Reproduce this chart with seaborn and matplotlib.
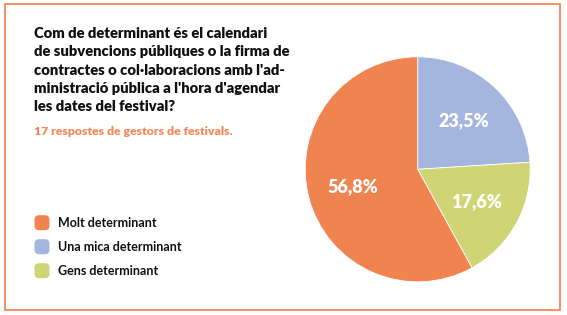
import matplotlib
matplotlib.use("Agg")
import matplotlib.pyplot as plt
from matplotlib.patches import Rectangle, FancyBboxPatch
import seaborn as sns

sns.set_theme(style="white")
plt.rcParams['font.family'] = ['Lato', 'DejaVu Sans']

categories = ["Molt determinant", "Una mica determinant", "Gens determinant"]
values = [56.8, 23.5, 17.6]
value_labels = ["56,8%", "23,5%", "17,6%"]
colors = ["#F08450", "#A5B6DE", "#CFD474"]

title_lines = ["Com de determinant és el calendari",
               "de subvencions públiques o la firma de",
               "contractes o col·laboracions amb l'ad-",
               "ministració pública a l'hora d'agendar",
               "les dates del festival?"]
subtitle = "17 respostes de gestors de festivals."

W, H = 567, 315
fig = plt.figure(figsize=(W / 100, H / 100), dpi=100)
fig.patch.set_facecolor("white")

# frame
fig.add_artist(Rectangle((4.5 / W, 1 - 310 / H), (560 - 4.5) / W, (310 - 4) / H,
                         transform=fig.transFigure, fill=False,
                         edgecolor="#F4895A", linewidth=1.3))

# title
for i, line in enumerate(title_lines):
    fig.text(34 / W, 1 - (33.5 + i * 18.35) / H, line, fontsize=10.6, fontweight="heavy",
             color="#111111", va="center", ha="left")
fig.text(34 / W, 1 - 131.5 / H, subtitle, fontsize=8.8, fontweight="heavy",
         color="#F4895A", va="center", ha="left")

# legend
for i, (cat, col) in enumerate(zip(categories, colors)):
    yc = 222.7 + i * 24
    fig.add_artist(FancyBboxPatch((34.5 / W, 1 - (yc + 7.5) / H), 15 / W, 15 / H,
                                  boxstyle="round,pad=0,rounding_size=0.008",
                                  transform=fig.transFigure, facecolor=col,
                                  edgecolor="none", mutation_aspect=W / H))
    fig.text(58 / W, 1 - yc / H, cat, fontsize=9.0, fontweight="bold",
             color="#111111", va="center", ha="left")

# pie
cx, cy, r = 417.7, 169.3, 112.5
ax = fig.add_axes([(cx - r) / W, 1 - (cy + r) / H, 2 * r / W, 2 * r / H])
order = [1, 2, 0]
wedges, texts, autotexts = ax.pie([values[i] for i in order],
                                  colors=[colors[i] for i in order],
                                  startangle=90, counterclock=False,
                                  autopct="%1.1f%%", pctdistance=0.6,
                                  wedgeprops=dict(linewidth=0.6, edgecolor="white"))
for t, i in zip(autotexts, order):
    t.set_text(value_labels[i])
    t.set_color("white")
    t.set_fontweight("heavy")
    t.set_fontsize(13)
ax.set_xlim(-1, 1)
ax.set_ylim(-1, 1)
ax.set_aspect("equal")
ax.axis("off")

fig.savefig("out.png", dpi=100, facecolor="white")
